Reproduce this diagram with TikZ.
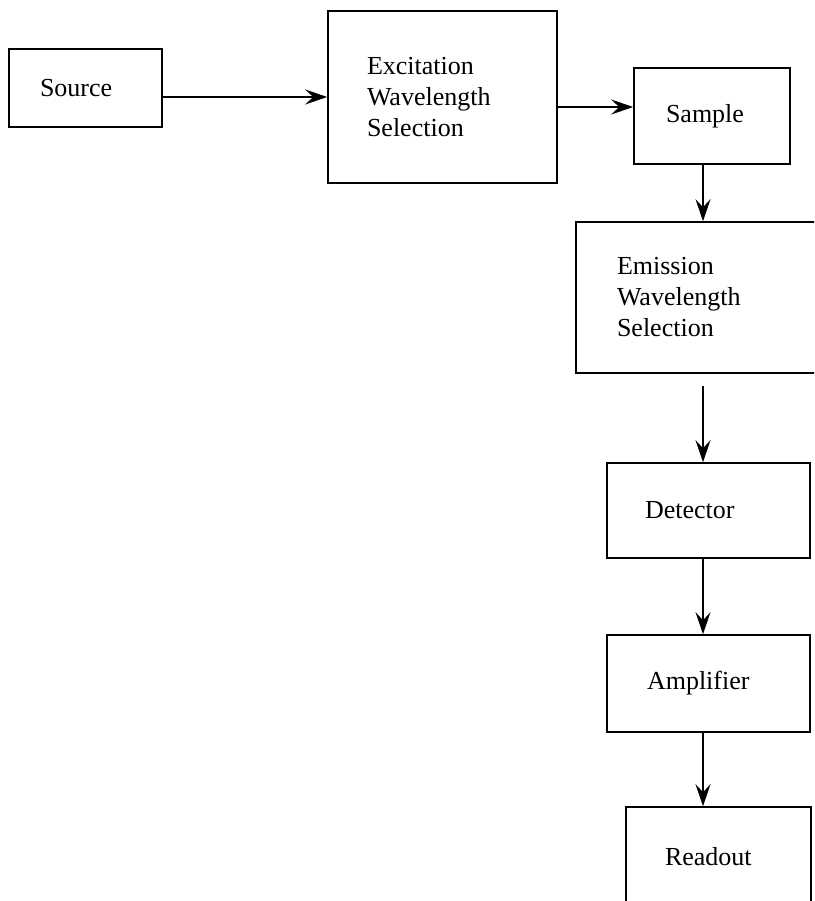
\documentclass[tikz,border=0pt]{standalone}
\usepackage{fontspec}
\setmainfont{Liberation Serif}
\usetikzlibrary{arrows.meta}

\tikzset{
	block/.style={draw, rectangle, line width=1.6pt, align=left, font=\fontsize{26}{31}\selectfont},
	flow/.style={line width=1.5pt, -{Stealth[length=22pt, width=15pt, inset=8pt]}}
}

\begin{document}
\begin{tikzpicture}[x=1pt, y=-1pt]
			%%%%% START %%%%%
			
			\clip (0, 0) rectangle (814, 901);
			
			% top row
			\node[block, inner xsep=31pt, text width=91pt, minimum height=78pt] (src) at (85.5, 88) {Source};
			\node[block, inner xsep=39pt, text width=151pt, minimum height=172pt] (exc) at (442.5, 97) {Excitation\\Wavelength\\Selection\\[14pt]};
			\node[block, inner xsep=32pt, text width=92pt, minimum height=96pt] (smp) at (712, 116) {Sample\\[12pt]};
			\coordinate (smpin) at ([yshift=9pt]smp.west);
			
			% right column
			\node[block, inner xsep=41pt, text width=172pt, minimum height=151pt] (emi) at (703, 297.5) {Emission\\Wavelength\\Selection};
			\node[block, inner xsep=38pt, text width=127pt, minimum height=95pt] (det) at (708.5, 510.5) {Detector};
			\node[block, inner xsep=40pt, text width=123pt, minimum height=97pt] (amp) at (708.5, 683.5) {Amplifier};
			\node[block, inner xsep=39pt, text width=107pt, minimum height=100pt] (rdo) at (718.5, 857) {Readout};
			
			% arrows
			\draw[flow] (src.east |- exc.west) -- (exc.west);
			\draw[flow] (exc.east |- smpin) -- (smpin);
			\draw[flow] (smp.south -| emi.north) -- (emi.north);
			\draw[flow] ([yshift=-12pt]emi.south) -- (emi.south |- det.north);
			\draw[flow] (det.south -| emi.south) -- (emi.south |- amp.north);
			\draw[flow] (amp.south -| emi.south) -- (emi.south |- rdo.north);
			
			%%%%% END %%%%%
\end{tikzpicture}
\end{document}
